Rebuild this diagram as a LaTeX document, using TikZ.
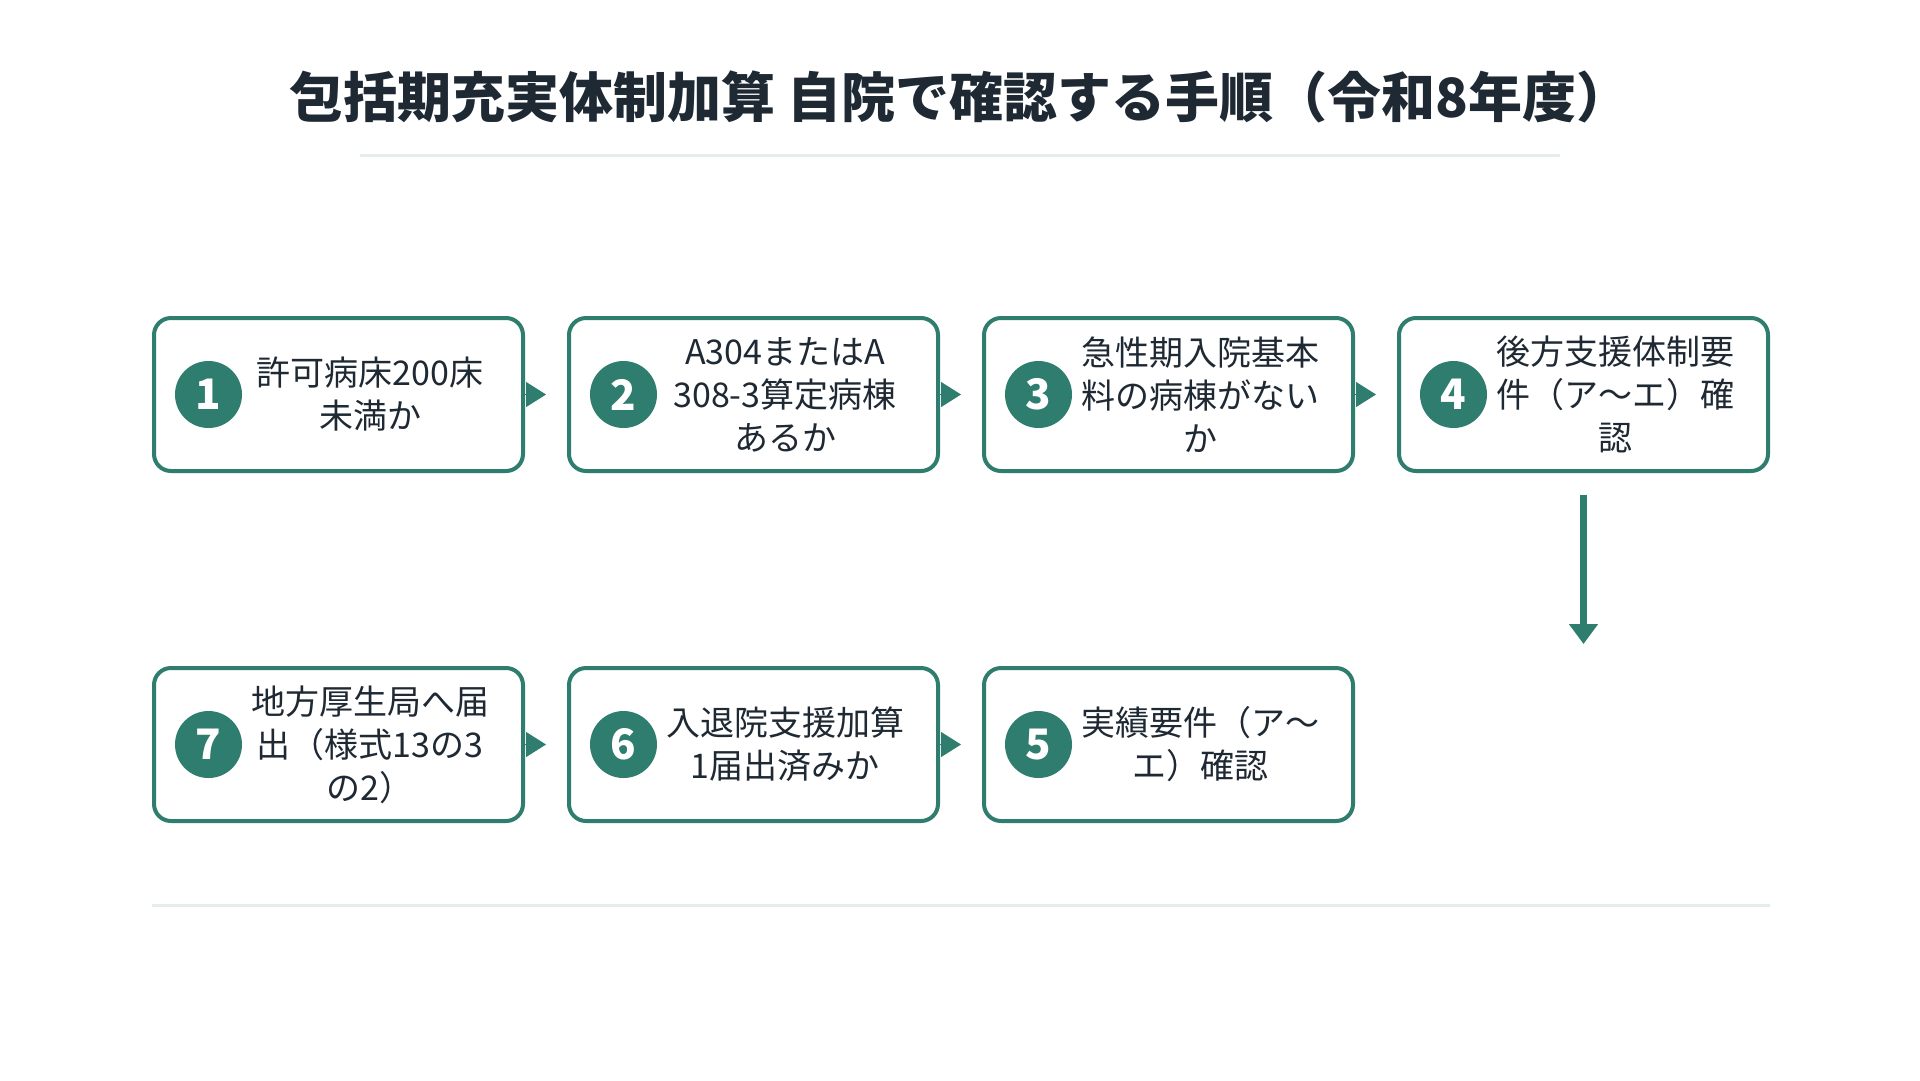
\documentclass[tikz,border=0pt]{standalone}
\usepackage{fontspec}
\setmainfont{Noto Sans CJK JP}
\usetikzlibrary{positioning,arrows.meta}

\definecolor{stepgreen}{HTML}{2F7D6E}
\definecolor{inkdark}{HTML}{1F2933}
\definecolor{dividergray}{HTML}{E3EEEB}

\tikzset{
  stepbox/.style={rectangle, draw=stepgreen, line width=4pt, rounded corners=17pt, fill=white, minimum width=369pt, minimum height=153pt},
  numdot/.style={circle, fill=stepgreen, text=white, minimum size=67pt, inner sep=0pt, font=\fontsize{42pt}{42pt}\selectfont\bfseries},
  steptext/.style={text=inkdark, align=center, inner sep=0pt, font=\fontsize{34pt}{43pt}\selectfont},
  titletext/.style={text=inkdark, inner sep=0pt, font=\fontsize{54pt}{60pt}\selectfont\bfseries},
  flowtip/.style={draw=stepgreen, fill=stepgreen, line width=1pt, -{Triangle[length=20pt,width=25pt]}, shorten >=21pt},
  downarrow/.style={draw=stepgreen, fill=stepgreen, line width=7pt, -{Triangle[length=20pt,width=28pt]}, shorten <=22pt, shorten >=22pt},
  divider/.style={draw=dividergray, line width=3pt}
}

\begin{document}
\begin{tikzpicture}[node distance=42pt]
\fill[white] (0pt,0pt) rectangle (1920pt,-1080pt);
\useasboundingbox (0pt,0pt) rectangle (1920pt,-1080pt);

% Title
\node[titletext] (title) at (960pt,-97pt) {包括期充実体制加算 自院で確認する手順（令和8年度）};
\draw[divider] (360pt,-155pt) -- (1560pt,-155pt);

% Row 1
\node[stepbox] (s1) at (338.5pt,-394.5pt) {};
\node[stepbox, right=of s1] (s2) {};
\node[stepbox, right=of s2] (s3) {};
\node[stepbox, right=of s3] (s4) {};

% Row 2
\node[stepbox, below=193pt of s1] (s7) {};
\node[stepbox, right=of s7] (s6) {};
\node[stepbox, right=of s6] (s5) {};

% Numbers
\node[numdot] (n1) at ([xshift=56.5pt]s1.west) {1};
\node[numdot] (n2) at ([xshift=56.5pt]s2.west) {2};
\node[numdot] (n3) at ([xshift=56.5pt]s3.west) {3};
\node[numdot] (n4) at ([xshift=56.5pt]s4.west) {4};
\node[numdot] (n5) at ([xshift=56.5pt]s5.west) {5};
\node[numdot] (n6) at ([xshift=56.5pt]s6.west) {6};
\node[numdot] (n7) at ([xshift=56.5pt]s7.west) {7};

% Texts
\node[steptext] (t1) at ([xshift=218pt]s1.west) {許可病床200床\\未満か};
\node[steptext] (t2) at ([xshift=218pt]s2.west) {A304またはA\\308-3算定病棟\\あるか};
\node[steptext] (t3) at ([xshift=218pt]s3.west) {急性期入院基本\\料の病棟がない\\か};
\node[steptext] (t4) at ([xshift=218pt]s4.west) {後方支援体制要\\件（ア〜エ）確\\認};
\node[steptext] (t5) at ([xshift=218pt]s5.west) {実績要件（ア〜\\エ）確認};
\node[steptext] (t6) at ([xshift=218pt]s6.west) {入退院支援加算\\1届出済みか};
\node[steptext] (t7) at ([xshift=218pt]s7.west) {地方厚生局へ届\\出（様式13の3\\の2）};

% Arrows
\draw[flowtip] (s1) -- (s2);
\draw[flowtip] (s2) -- (s3);
\draw[flowtip] (s3) -- (s4);
\coordinate (turn) at (s4.center |- s5.north);
\draw[downarrow] (s4) -- (turn);
\draw[flowtip] (s7) -- (s6);
\draw[flowtip] (s6) -- (s5);

% Bottom divider
\draw[divider] (152pt,-905pt) -- (1770pt,-905pt);
\end{tikzpicture}
\end{document}
